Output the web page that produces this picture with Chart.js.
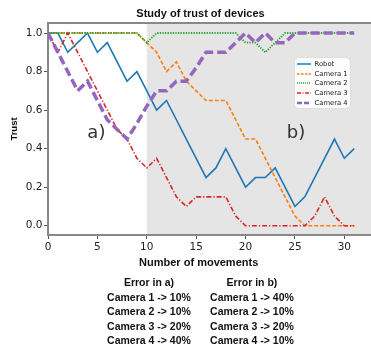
<!DOCTYPE html>
<html><head><meta charset="utf-8">
<script src="https://cdn.jsdelivr.net/npm/chart.js@4.4.1/dist/chart.umd.min.js"></script>
<style>
html,body{margin:0;padding:0;background:#fff;}
#wrap{position:relative;width:371px;height:351px;overflow:hidden;background:#fff;}
#c{position:absolute;left:0;top:0;}
.t{position:absolute;font-family:"Liberation Sans",Arial,sans-serif;font-weight:bold;color:#111;white-space:nowrap;text-align:center;}
#legend{position:absolute;left:294px;top:57px;width:57px;height:52px;background:rgba(255,255,255,0.9);border:1px solid #ddd;border-radius:5px;box-sizing:border-box;padding-top:1px;}
.row{height:9.8px;display:flex;align-items:center;padding-left:2px;font-family:"DejaVu Sans",sans-serif;font-size:6.8px;color:#222;}
.row svg{flex:none;margin-right:3.5px;}
</style></head>
<body>
<div id="wrap">
<canvas id="c" width="371" height="351"></canvas>
<div class="t" style="left:100.5px;top:5.5px;width:200px;font-size:11px;line-height:14px;">Study of trust of devices</div>
<div class="t" style="left:98.7px;top:255.3px;width:200px;font-size:11px;line-height:14px;">Number of movements</div>
<div class="t" style="left:89px;top:275px;width:120px;font-size:10.5px;line-height:14.6px;">Error in a)<br>Camera 1 -&gt; 10%<br>Camera 2 -&gt; 10%<br>Camera 3 -&gt; 20%<br>Camera 4 -&gt; 40%</div>
<div class="t" style="left:192px;top:275px;width:120px;font-size:10.5px;line-height:14.6px;">Error in b)<br>Camera 1 -&gt; 40%<br>Camera 2 -&gt; 10%<br>Camera 3 -&gt; 20%<br>Camera 4 -&gt; 10%</div>
<div id="legend">
<div class="row"><svg width="14" height="8"><line x1="0" y1="4" x2="14" y2="4" stroke="#1f77b4" stroke-width="1.5"/></svg>Robot</div>
<div class="row"><svg width="14" height="8"><line x1="0" y1="4" x2="14" y2="4" stroke="#ff7f0e" stroke-width="1.5" stroke-dasharray="2.6,1.4"/></svg>Camera 1</div>
<div class="row"><svg width="14" height="8"><line x1="0" y1="4" x2="14" y2="4" stroke="#2ca02c" stroke-width="1.5" stroke-dasharray="1,1"/></svg>Camera 2</div>
<div class="row"><svg width="14" height="8"><line x1="0" y1="4" x2="14" y2="4" stroke="#d62728" stroke-width="1.5" stroke-dasharray="4,1.5,1,1.5"/></svg>Camera 3</div>
<div class="row"><svg width="14" height="8"><line x1="0" y1="4" x2="14" y2="4" stroke="#9467bd" stroke-width="2.5" stroke-dasharray="5,2"/></svg>Camera 4</div>
</div>
</div>
<script>
const movements = [0,1,2,3,4,5,6,7,8,9,10,11,12,13,14,15,16,17,18,19,20,21,22,23,24,25,26,27,28,29,30,31];
const robot   = [1.0,1.0,0.9,0.95,1.0,0.9,0.95,0.85,0.75,0.8,0.7,0.6,0.65,0.55,0.45,0.35,0.25,0.3,0.4,0.3,0.2,0.25,0.25,0.3,0.2,0.1,0.15,0.25,0.35,0.45,0.35,0.4];
const camera1 = [1,1,1,1,1,1,1,1,1,1,0.95,0.9,0.8,0.85,0.75,0.7,0.65,0.65,0.65,0.55,0.45,0.45,0.35,0.25,0.15,0.05,0,0,0,0,0,0];
const camera2 = [1,1,1,1,1,1,1,1,1,1,0.95,1,1,1,1,1,1,1,1,1,0.95,0.95,0.9,0.95,1,1,1,1,1,1,1,1];
const camera3 = [1.0,0.9,1.0,0.9,0.8,0.7,0.6,0.5,0.45,0.35,0.3,0.35,0.25,0.15,0.1,0.15,0.15,0.15,0.15,0.05,0,0,0,0,0,0,0,0.05,0.15,0.05,0,0];
const camera4 = [1.0,0.9,0.8,0.7,0.75,0.65,0.55,0.5,0.45,0.53,0.62,0.7,0.7,0.75,0.75,0.82,0.9,0.9,0.9,0.95,1.0,0.95,1.0,0.95,0.95,1.0,1,1,1,1,1,1];
const seriesNames = ['Robot','Camera 1','Camera 2','Camera 3','Camera 4'];
const xTickValues = [0,5,10,15,20,25,30];
const yTickValues = [0,0.2,0.4,0.6,0.8,1.0];
const shadeStart = 10;
const regionLabels = ['a)','b)'];

const toPts = arr => arr.map((v,i)=>({x:movements[i], y:v}));

const plotDeco = {
  id:'plotDeco',
  beforeDraw(chart){
    const {ctx, chartArea:a, scales:{x}} = chart;
    const x0 = x.getPixelForValue(shadeStart);
    ctx.save();
    ctx.fillStyle = '#e5e5e5';
    ctx.fillRect(x0, a.top, a.right - x0, a.bottom - a.top);
    ctx.restore();
  },
  beforeDatasetsDraw(chart){
    const {ctx, chartArea:a} = chart;
    ctx.save();
    ctx.strokeStyle = '#888';
    ctx.lineWidth = 2;
    ctx.beginPath();
    ctx.moveTo(a.left - 1, a.top);
    ctx.lineTo(a.right, a.top);
    ctx.stroke();
    ctx.restore();
  },
  afterDatasetsDraw(chart){
    const {ctx, scales:{x,y}} = chart;
    ctx.save();
    ctx.fillStyle = '#333';
    ctx.font = '18px "DejaVu Sans"';
    ctx.textAlign = 'center';
    ctx.textBaseline = 'middle';
    ctx.fillText(regionLabels[0], x.getPixelForValue(4.9), y.getPixelForValue(0.48));
    ctx.fillText(regionLabels[1], x.getPixelForValue(25.1), y.getPixelForValue(0.48));
    ctx.restore();
  }
};

new Chart(document.getElementById('c'), {
  type:'line',
  data:{
    datasets:[
      {label:seriesNames[0], data:toPts(robot), borderColor:'#1f77b4', borderWidth:1.6, order:5},
      {label:seriesNames[1], data:toPts(camera1), borderColor:'#ff7f0e', borderWidth:1.6, borderDash:[4,2], order:4},
      {label:seriesNames[2], data:toPts(camera2), borderColor:'#2ca02c', borderWidth:1.8, borderDash:[1.3,1.3], order:3},
      {label:seriesNames[3], data:toPts(camera3), borderColor:'#d62728', borderWidth:1.6, borderDash:[5,2,1.2,2], order:2},
      {label:seriesNames[4], data:toPts(camera4), borderColor:'#9467bd', borderWidth:3.5, borderDash:[9,4], order:1}
    ]
  },
  options:{
    responsive:false, animation:false, devicePixelRatio:1,
    elements:{point:{radius:0}, line:{tension:0, fill:false}},
    layout:{padding:{top:23, left:0, right:0, bottom:100}},
    plugins:{legend:{display:false}, tooltip:{enabled:false}, title:{display:false}},
    scales:{
      x:{
        type:'linear', min:0, max:32.7,
        afterBuildTicks:s=>{ s.ticks = xTickValues.map(v=>({value:v})); },
        afterFit:s=>{ s.height = 16; },
        grid:{drawOnChartArea:false, drawTicks:true, tickLength:4, tickColor:'#555', tickWidth:1},
        border:{display:true, color:'#888', width:2},
        ticks:{font:{family:'DejaVu Sans', size:10.5}, color:'#222', padding:2, maxRotation:0, autoSkip:false, callback:v=>String(v)}
      },
      y:{
        type:'linear', min:-0.048, max:1.052,
        afterBuildTicks:s=>{ s.ticks = yTickValues.map(v=>({value:v})); },
        afterFit:s=>{ s.width = 48; },
        grid:{drawOnChartArea:false, drawTicks:true, tickLength:4, tickColor:'#555', tickWidth:1},
        border:{display:true, color:'#888', width:2},
        ticks:{font:{family:'DejaVu Sans', size:10.5}, color:'#222', padding:1.5, autoSkip:false, callback:v=>Number(v).toFixed(1)},
        title:{display:true, text:'Trust', font:{family:'Liberation Sans', weight:'bold', size:9.5}, color:'#111', padding:{top:9, bottom:0}}
      }
    }
  },
  plugins:[plotDeco]
});
</script>
</body></html>
